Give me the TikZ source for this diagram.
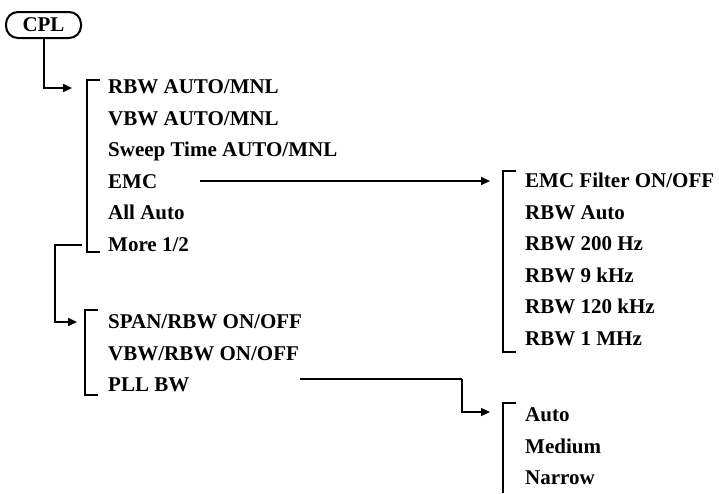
\documentclass[tikz,border=0pt]{standalone}
\usepackage{fontspec}
\setmainfont{Liberation Serif}
\usetikzlibrary{arrows.meta}
\begin{document}
\begin{tikzpicture}[x=1pt,y=-1pt,
  item/.style={anchor=west, font=\bfseries\fontsize{21}{23}\selectfont, inner sep=0pt, text height=13.9pt, text depth=0pt},
  ln/.style={line width=2pt},
  thinln/.style={line width=1.2pt},
  tip/.style={-{Triangle[length=9pt,width=8pt]}},
  cplbox/.style={draw, line width=2pt, rounded corners=12pt, minimum width=75pt, minimum height=26pt, inner sep=0pt, font=\bfseries\fontsize{21}{23}\selectfont, text height=13.9pt, text depth=0pt}
]
\useasboundingbox (0,0) rectangle (719,493);
% CPL
\node[cplbox] (cpl) at (43.5,25) {CPL\hspace{12pt}};
% column 1
\coordinate (a1) at (72,88);
\node[item] (r1) at (108,87) {RBW AUTO/MNL};
\node[item] (r2) at (108,118.5) {VBW AUTO/MNL};
\node[item] (r3) at (108,150) {Sweep Time AUTO/MNL};
\node[item] (r4) at (108,181.5) {EMC};
\node[item] (r5) at (108,213) {All Auto};
\node[item] (r6) at (108,244.5) {More 1/2};
\draw[ln] (100,80) -- (87,80) -- (87,252) -- (100,252);
\draw[ln,tip] (cpl.south) |- (a1);
% column 2
\coordinate (a2) at (77,322);
\coordinate (m2) at (82,245);
\node[item] (s1) at (108,322) {SPAN/RBW ON/OFF};
\node[item] (s2) at (108,353.5) {VBW/RBW ON/OFF};
\node[item] (s3) at (108,385) {PLL BW};
\draw[ln] (98,310) -- (85,310) -- (85,395) -- (98,395);
\draw[ln,tip] (m2) -- (55,245) |- (a2);
% column 3
\node[item] (e1) at (525,181) {EMC Filter ON/OFF};
\node[item] (e2) at (525,212.5) {RBW Auto};
\node[item] (e3) at (525,244) {RBW 200 Hz};
\node[item] (e4) at (525,275.5) {RBW 9 kHz};
\node[item] (e5) at (525,307) {RBW 120 kHz};
\node[item] (e6) at (525,338.5) {RBW 1 MHz};
\draw[ln] (516,171) -- (503,171) -- (503,352) -- (516,352);
\coordinate (a3) at (490,181);
\draw[ln,tip] (200,181) -- (a3);
% column 4
\node[item] (p1) at (525,415) {Auto};
\node[item] (p2) at (525,446.5) {Medium};
\node[item] (p3) at (525,478) {Narrow};
\draw[ln] (516,403) -- (503,403) -- (503,493);
\coordinate (a4) at (490,412);
\coordinate (k4) at (462,379);
\draw[ln] (300,379) -- (k4);
\draw[thinln,tip] (k4) |- (a4);
\end{tikzpicture}
\end{document}
